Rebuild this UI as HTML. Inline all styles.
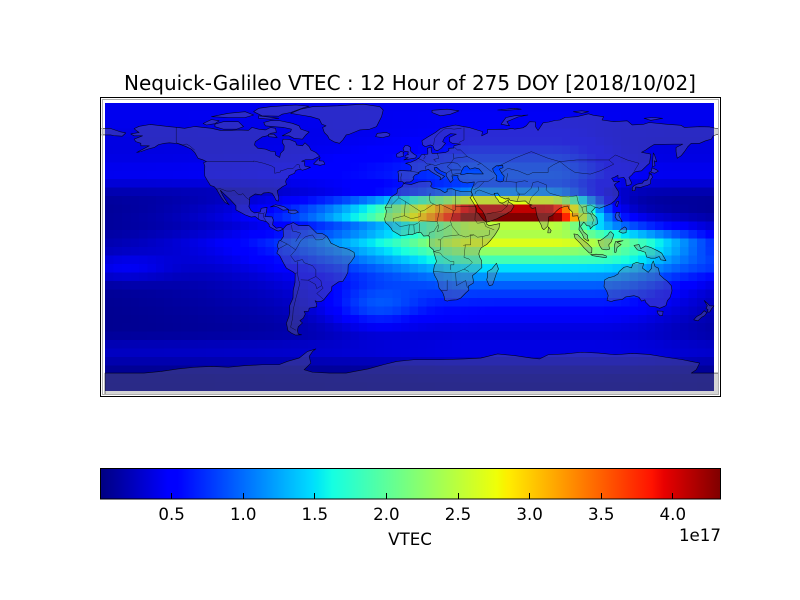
<!DOCTYPE html>
<html><head><meta charset="utf-8">
<style>
html,body{margin:0;padding:0;background:#fff;}
body{width:800px;height:600px;position:relative;overflow:hidden;font-family:"DejaVu Sans","Liberation Sans",sans-serif;}
svg{position:absolute;left:0;top:0;}
#c{position:absolute;left:105px;top:103px;width:609px;height:288px;image-rendering:pixelated;image-rendering:crisp-edges;}
.m path,.m polygon,.m polyline{vector-effect:non-scaling-stroke;}
</style></head><body>
<svg width="800" height="600" viewBox="0 0 800 600">
<defs>
<linearGradient id="jet" x1="0" y1="0" x2="1" y2="0">
<stop offset="0" stop-color="#000080"/>
<stop offset="0.11" stop-color="#0000ff"/>
<stop offset="0.125" stop-color="#0000ff"/>
<stop offset="0.34" stop-color="rgb(0,219,255)"/>
<stop offset="0.35" stop-color="rgb(0,230,247)"/>
<stop offset="0.375" stop-color="rgb(21,255,226)"/>
<stop offset="0.64" stop-color="rgb(239,255,8)"/>
<stop offset="0.65" stop-color="rgb(247,245,0)"/>
<stop offset="0.66" stop-color="rgb(255,236,0)"/>
<stop offset="0.89" stop-color="rgb(255,19,0)"/>
<stop offset="0.91" stop-color="rgb(232,0,0)"/>
<stop offset="1" stop-color="rgb(128,0,0)"/>
</linearGradient>
<linearGradient id="fb" x1="0" y1="0" x2="0" y2="1">
<stop offset="0" stop-color="#0000e0"/>
<stop offset="0.25" stop-color="#0020ff"/>
<stop offset="0.33" stop-color="#00b0ff"/>
<stop offset="0.40" stop-color="#c0ff40"/>
<stop offset="0.47" stop-color="#80ff80"/>
<stop offset="0.53" stop-color="#a0ff60"/>
<stop offset="0.62" stop-color="#00d0ff"/>
<stop offset="0.75" stop-color="#0040ff"/>
<stop offset="1" stop-color="#0000d0"/>
</linearGradient>
</defs>
<rect x="0" y="0" width="800" height="600" fill="#fff"/>
<rect x="105" y="103" width="609" height="288" fill="url(#fb)"/>
<text x="410" y="90" font-size="20" text-anchor="middle" fill="#000">Nequick-Galileo VTEC : 12 Hour of 275 DOY [2018/10/02]</text>
<rect x="100" y="468" width="620" height="31" fill="url(#jet)"/>
<g stroke="#000" stroke-width="1">
<line x1="171.5" y1="493" x2="171.5" y2="499"/>
<line x1="243.5" y1="493" x2="243.5" y2="499"/>
<line x1="314.5" y1="493" x2="314.5" y2="499"/>
<line x1="386.5" y1="493" x2="386.5" y2="499"/>
<line x1="458.5" y1="493" x2="458.5" y2="499"/>
<line x1="529.5" y1="493" x2="529.5" y2="499"/>
<line x1="601.5" y1="493" x2="601.5" y2="499"/>
<line x1="672.5" y1="493" x2="672.5" y2="499"/>
</g>
<rect x="100.5" y="468.5" width="620" height="30.5" fill="none" stroke="#000" stroke-width="1"/>
<g font-size="16.67" text-anchor="middle" fill="#000">
<text x="171.6" y="520">0.5</text>
<text x="243.2" y="520">1.0</text>
<text x="314.8" y="520">1.5</text>
<text x="386.4" y="520">2.0</text>
<text x="458" y="520">2.5</text>
<text x="529.6" y="520">3.0</text>
<text x="601.2" y="520">3.5</text>
<text x="672.8" y="520">4.0</text>
<text x="410" y="545">VTEC</text>
</g>
<text x="721" y="541" font-size="16.67" text-anchor="end" fill="#000">1e17</text>
</svg>
<canvas id="c" width="72" height="34"></canvas>
<script>
(function(){
var cv=document.getElementById('c');if(!cv.getContext)return;
var ctx=cv.getContext('2d');var im=ctx.createImageData(72,34);
function g(x,s){var q=x/s;return Math.exp(-q*q);}
function envN(lon,pe,east){if(lon<35){var d=35-lon;return Math.exp(-d/70)*g(d,170);}if(lon<=pe)return 1;return g(lon-pe,east);}
function envS(lon){if(lon<30){var d=30-lon;return Math.exp(-d/120)*g(d,200);}if(lon<=110)return 1;return g(lon-110,65);}
function val(lon,lat){
var EN=envN(lon,80,25),EBn=envN(lon,85,30),ES=envS(lon);
var w=1/(1+Math.exp(-(lat-10)/6));
var B=1.5*g(lat-5,17)+0.95*g(lat+5,41);
var d=lat-20.5,dd=Math.max(0,Math.abs(d)-2.5);
var N=2.9*(d>0?g(dd,6.5):g(dd,4));
var S=0.25*g(lat-2.5,4);
var night=0.04+0.32/(1+Math.exp(-(lat-35)/4))+0.1*g(lat-42,8)+0.2*g(lat+62,8)+0.06*g(lat-80,12);
var lw=lon+170;if(lw>180)lw-=360;
night+=0.3*g(lat+12,8)*g(lw,30);
var extra=0.5*g(lon+20,28)*g(lat+35,13);
var dn=0.25*EBn*g(lat-50,15);
return night+EN*N+(w*EBn+(1-w)*ES)*B+ES*S+extra+dn;}
function lin(t,xs,ys){for(var k=1;k<xs.length;k++){if(t<=xs[k]){var f=(t-xs[k-1])/(xs[k]-xs[k-1]);return ys[k-1]+f*(ys[k]-ys[k-1]);}}return ys[ys.length-1];}
for(var j=0;j<34;j++){var lat=82.5-5*j;
for(var i=0;i<72;i++){var lon=-177.5+5*i;
var t=val(lon,lat)/4.33;if(t<0)t=0;if(t>1)t=1;
var r=lin(t,[0,0.35,0.66,0.89,1],[0,0,1,1,0.5]);
var gg=lin(t,[0,0.125,0.375,0.64,0.91,1],[0,0,1,1,0,0]);
var b=lin(t,[0,0.11,0.34,0.65,1],[0.5,1,1,0,0]);
var p=(j*72+i)*4;im.data[p]=Math.round(r*255);im.data[p+1]=Math.round(gg*255);im.data[p+2]=Math.round(b*255);im.data[p+3]=255;}}
ctx.putImageData(im,0,0);
})();
</script>
<svg width="800" height="600" viewBox="0 0 800 600">
<defs><clipPath id="mc"><rect x="101.5" y="98.5" width="617" height="296"/></clipPath></defs>
<g clip-path="url(#mc)">
<g class="m" transform="matrix(1.683 0 0 -1.665 413.5 243.2)" fill="rgb(128,128,128)" fill-opacity="0.33" stroke="#000" stroke-width="0.6" stroke-opacity="0.85" stroke-linejoin="round">
<polygon points="-166,68.8 -163,70.2 -156.5,71.3 -152,70.8 -145,70 -141,69.6 -136,69 -130,70.1 -125,69.5 -120,69 -115,67.8 -108,67.8 -104,68 -98,67.8 -96,69.5 -94,69 -92,68.5 -88,68 -85,69.5 -82,69 -81.5,66.5 -85,66 -87,64.5 -90,63.8 -94,61 -94.5,59 -92.5,57 -88,56.5 -85,55.3 -82.2,55 -82,53 -79.5,51.5 -79,54 -77,56 -76.8,58.5 -78,60.5 -77.5,62.5 -73.5,62.2 -70,60.8 -69.5,59 -66,58.5 -64.5,60.3 -62,58 -61,56 -58,54.5 -55.7,52.2 -57.5,51.4 -60,50.2 -64,50.2 -66.5,49.2 -64.5,49 -64.8,47.8 -64.5,46.3 -61.2,45.6 -63.5,44.6 -66,43.8 -67.5,44.5 -70,43.7 -70.7,42 -74,40.6 -74.3,39.5 -75.5,38.5 -76,37 -75.5,35.2 -78,33.8 -81,31.5 -80,27 -80.4,25.2 -81.7,25.9 -82.7,28 -84,30 -86,30.4 -89,30.2 -90.5,29 -94,29.6 -97.3,27.5 -97.5,24 -97.8,22 -96.5,19.5 -94.5,18.2 -91,18.8 -90.5,21 -87,21.5 -87.6,18 -88.3,16 -84,15.8 -83.3,14 -83.7,11 -81.5,9 -79,9.5 -77.5,8.5 -79.5,7.5 -80.5,7.3 -82.5,8.2 -85.7,10 -85.8,11.3 -87.5,13 -91.5,14 -94,16 -96.5,15.7 -100,17 -105.5,20 -105.5,22.5 -108,25.2 -109.5,26.8 -112.2,29.3 -114.8,31.8 -113.5,29 -112,26.5 -110.5,24.2 -109.5,23 -110.3,23.6 -112.1,24.6 -114.2,27.5 -115.5,29.7 -117.1,32.5 -118.5,34 -120.6,34.6 -122.4,37.5 -124,40.3 -124.1,43 -124,46.3 -124.7,48.4 -123,49 -125,50 -128,51 -130,54.5 -132,56.5 -135.5,58.2 -140,59.8 -145,60.3 -148,60 -151.5,59.2 -154,57.5 -158,56.5 -162,55 -164.5,54.5 -157,58.5 -162,58.5 -162,60 -165,61 -166,62.5 -164,63.3 -161,64.5 -166,64.5 -168,65.6 -163,66.5 -164.5,67.5"/>
<polygon points="-73,78 -67,80.5 -60,82 -45,82.5 -30,83.5 -20,82 -18,80 -19,76 -21,72 -22,70 -26,68.5 -32,68 -38,65.5 -40,65 -42,62 -44,60 -47,60.8 -50,62.5 -51,64.5 -53,66.5 -54,69.5 -52,70.5 -54.5,71.5 -56,74.5 -61,76 -67,77"/>
<polygon points="-80,73.7 -72,72 -68,70.5 -67,68.5 -62,66.8 -64,65 -66,62.5 -71,63 -74,64.5 -78,64.5 -73,67 -72.5,68.5 -77,69.5 -83,70 -88,70.5 -89,72.5 -85,73.6"/>
<polygon points="-90,76.5 -80,76.3 -78,77.5 -73,78.5 -65,81.5 -62,82.3 -70,83 -85,82 -92,81 -95,79"/>
<polygon points="-118,71.5 -113,73 -104,73 -101,70 -105,68.5 -113,68.5 -118,70"/>
<polygon points="-125,71.9 -120,74.3 -115.5,73.5 -118,71.8 -123,71"/>
<polygon points="-120,76 -110,78 -100,79 -95,77 -100,75.5 -110,75.5"/>
<polygon points="-92,76.5 -80,75 -85,74.5 -92,75"/>
<polygon points="-86,64 -81,63.5 -83,65.5 -86,65.5"/>
<polygon points="-59.4,47.6 -55.5,51.5 -56,49.5 -53.5,49.3 -52.7,47.5 -55.5,46.8"/>
<polygon points="-85,21.8 -82,23.1 -77,22 -74.2,20.2 -77.5,19.8 -80.5,21.6 -82,22.2"/>
<polygon points="-74.4,19.8 -70,19.9 -68.4,18.6 -71.5,17.6 -74.4,18.4"/>
<polygon points="-22.5,64 -21.5,66 -16,66.5 -14,65.5 -14.5,64.4 -18.5,63.4"/>
<polygon points="-5.7,50 1.4,51.2 1.7,52.7 0.3,53.5 -1.5,55 -2,56 -1.8,57.6 -3.3,58.6 -5,58.6 -6.2,56.8 -5.6,55.3 -3,54.9 -3.4,54 -3,53.3 -4.6,52.8 -5.2,51.7 -3.1,51.4"/>
<polygon points="-6,52.2 -6.2,53.9 -5.7,54.6 -7.6,55.2 -8.5,54.4 -10,53.5 -9.9,51.8 -8,51.7"/>
<polygon points="11,78.5 16,76.5 22,77.5 27,79.5 20,80.5 11,79.8"/>
<polygon points="52,71.5 57,70.5 55.5,73 62,75.8 68,77 60,76.5 55,75.5"/>
<polygon points="95,79 100,79.5 104,79 100,78"/>
<polygon points="137,75 142,75.5 148,75 141,73.8"/>
<polygon points="50,80 60,81 64,80.5 55,79.8"/>
<polygon points="-180,68.9 -174.5,67 -171,66.2 -173,64.3 -178,64.6 -180,65 -186,65 -186,68.9"/>
<path fill-rule="evenodd" d="M-5.6,36 L-6.5,36.9 -8.9,37 -8.8,40.5 -9.3,43 -8,43.7 -3,43.4 -1.5,43.4 -1.2,46 -2.5,47.3 -4.7,48 -1.5,48.7 1.5,50 3.5,51.4 4.8,53.2 8.5,53.5 8.5,55.5 8.2,57 10.5,57.7 10.5,56 11,54 14,54 19,54.5 21,55.5 21,57 24,57.2 24,58.5 28,59.5 23,60 21.5,61 21.2,63.5 25.5,65.5 22,65.8 18.5,63.5 17.3,61 19,60 16.5,57 14.2,55.5 12.5,56.2 11.5,58.5 10,59 7,58 5.5,59 5,61.5 8,63.5 13,66.5 16,68.8 20,70 25,71 30,70 33,69.5 41,67 40.5,64.5 44,66.2 44,68.3 53,68.5 55,68.3 58.5,69 60,68.5 65,69.3 67,70.5 69,73 72.5,72.8 72.5,70 74,67.7 77,72.3 80.5,72.8 84,73.7 87,74 90,75.5 97,76 104,77.7 107,76.8 113,76 112,74 119,73 127,73.5 130,71 137,71.5 140,72.5 150,71.5 159,70.8 161,69.5 170,70 176,69.8 180,68.9 186,68.9 186,65.2 180,65.2 178,64.4 177,62.5 173.5,61.5 170,60 165,60 163,58 161,55 159,52.5 156.7,51 156,55 156,57.5 160,59.5 155,59.5 143,59.3 140.5,57.8 138,56 135.5,54.6 141,53.5 140.5,50 140.2,48 138.5,46.5 135.5,43.5 132,43 130.7,42.3 129.7,41 128,39.5 129.5,36.5 129.2,35.2 126.5,34.4 126.2,36.8 126.2,37.7 125,39.5 121.5,39 121.5,40.8 119.8,39.8 117.7,39 118.5,38 119,37 122.5,37.2 120.3,36 119.3,35 120.8,32.5 121.9,30.9 122,29.5 121.5,28 119.6,25.5 117,23.5 114,22.3 110.5,21 108,21.6 106.8,20 105.8,19 106.6,17.4 108.9,15.4 109.4,12 109,11.5 106.8,10.4 105,8.6 104.8,10.3 103,10.5 101.2,12.7 99.2,10 100.3,8.2 101,6.8 103.4,4.8 103.5,2.7 104.2,1.4 103.5,1.3 101.3,2.9 100.3,5.3 98.3,8.2 98.5,10 98.7,12.5 97.6,16.5 94.5,16.2 94.3,18.8 92.3,20.7 91.8,22.3 90.5,22.2 88.5,21.6 86.9,21 85,19.4 82.3,16.6 80.3,15.8 80.1,13.4 79.8,10.3 77.5,8.1 76.5,8.9 75.7,11.3 74.8,12.9 73.5,16 72.8,19.2 72.6,21.4 70.5,20.8 69,22.4 70.5,23 68.2,23.7 66.5,25.4 61.5,25.1 57.4,25.7 56.5,27.1 54.7,26.5 51.5,27.9 50,30.1 47.9,29.9 48.8,27.7 50.1,26.2 50.8,24.8 51.6,24.2 53.4,24.2 55.5,25.5 56.3,26.3 56.4,24.9 58.7,23.5 59.8,22.4 57.8,19 56.6,18.6 55.3,17.6 52,16 49.5,14.7 45,13 43.5,12.7 42.7,16 40.9,19.5 39.1,21.3 37.5,24.3 35.6,27.5 34.9,29.4 34.2,31.2 34.6,32.5 35.9,35.4 36.1,36.8 32,36.2 29.5,36.5 27.3,37.5 26.3,39.5 26.5,40.5 26,40.8 24,40.5 22.8,40.5 23.5,38 22,36.5 21.1,37.8 19.4,40.5 19.5,42 16,43.5 13.7,45.6 12.3,45.3 12.5,44 14,42.5 16,41.4 18.5,40.2 16.5,38.5 15.7,38 16.1,39.5 15.6,40 12.4,41.8 10.5,43 8.8,44.4 7.5,43.8 4.5,43.4 3.1,42.5 3.2,41.9 0.9,41 -0.3,39.5 0.2,38.7 -0.7,37.6 -2.1,36.7 -4.4,36.7 Z M28,41.3 L28.5,43.5 30,45.8 31.8,46.5 33.5,44.5 36.5,45.3 39,44.6 41.5,41.6 36,41.6 32,41.9 29,41.1 Z M47,44.8 L49.2,46.5 53,46.8 53.2,45.3 51,44.5 52.7,41.7 53.9,40.3 53.4,37.3 51.5,36.8 49,37.6 49.5,40.3 47.5,43 Z"/>
<polygon points="-5.9,35.8 -1.5,35.2 3,36.8 10,37.2 11,35.5 10.1,34.3 11.2,33.2 15.5,32.3 18.5,30.4 20,31 20,32.5 23,32.7 25,31.8 29,30.9 32,31.2 34.2,31.2 34.9,29.5 34.2,27.8 33.6,27.5 35.8,23.9 37.3,21 37.4,18.6 38.6,17.9 40,15.8 41.7,13.8 43.2,12.6 43.4,11.5 45,10.5 51.3,11.8 51,10.4 50.8,9 49,6 48,4.5 46,2 43.5,-0.8 41.5,-1.9 40.2,-2.8 39.2,-4.7 38.8,-6.5 39.4,-8.5 40.5,-10.5 40.6,-14.7 37.5,-17.5 35,-19.5 35.5,-22 35.5,-24 32.6,-25.8 32.9,-28.2 31,-29.9 28,-33 25.6,-34 22,-34.2 20,-34.8 18.4,-34.1 18.2,-32 17.3,-29.5 15.2,-27 14.4,-22.8 12.4,-19 11.8,-17 12.4,-13.5 13.7,-11 12.2,-6 11.8,-4 9.5,-2 9.6,1 9.6,3.9 8.8,4.5 6,4.3 4.5,6.3 2,6.3 -1,5.1 -3,5.1 -7.5,4.4 -9.2,5.5 -12.5,7.5 -13.3,9 -15,11 -16.7,12.4 -17.2,14.7 -16.5,16.5 -16.1,19.5 -16.9,21.3 -15,24.5 -13.5,27.6 -9.8,30 -9.5,32.5 -6.8,34"/>
<polygon points="49.3,-12 50.5,-15.5 49.5,-17.5 48,-22 47,-25 45,-25.5 43.5,-22 44,-20 44,-17 46.5,-15.5"/>
<polygon points="-77.5,8.5 -75.5,10.8 -73,11.6 -71.5,12.4 -70,11.5 -68,10.5 -64,10.6 -62,10.5 -60,8.5 -57.5,6 -54,5.7 -51.5,4.2 -50,1.8 -49,0 -47.5,-0.7 -44,-2.4 -41,-2.9 -38.5,-3.7 -35.3,-5.5 -35,-8 -37,-11 -38.8,-13 -39,-17.5 -40.5,-20.5 -42,-22.9 -44.5,-23.2 -48.5,-26 -48.8,-28.5 -51,-31 -53.3,-34 -55,-35 -57.2,-35.2 -58.5,-34.5 -57.5,-36.5 -57.5,-38.2 -62,-39 -62.3,-40.8 -65,-41 -64.3,-42.5 -65.5,-45 -67.5,-46.5 -66,-47.9 -68.5,-50.2 -69,-52.3 -68.5,-54.5 -66.5,-55 -70,-55.2 -72.5,-54 -74.6,-52.5 -75.5,-48 -74,-44 -73.5,-41.5 -73.6,-37.5 -71.6,-33 -71.5,-28.5 -70.4,-23.5 -70.3,-18.3 -71.5,-17.3 -75.5,-15 -77.2,-12 -79.5,-7.5 -81.2,-6 -80.3,-3.5 -80.9,-1.5 -80,1.2 -78.8,1.8 -77.3,4 -77.4,6.5"/>
<polygon points="130,31.5 131.5,31.5 132,33.8 135,33.5 136.8,34.2 139,34.7 140.8,35.7 141,38.3 142,39.5 141.4,41.4 140,40.8 139.9,39.5 139,38 136.8,37.3 136,36 133,35.5 131,34.5 130,33.5"/>
<polygon points="140,41.5 141.5,42.5 143.3,42 145.5,43.3 144.5,44 141.7,45.4 141.4,43.3 140,42.5"/>
<polygon points="142,46 143.5,46.5 143,49.5 144.5,49 143.2,53 142.5,54.2 142.2,51 142,48"/>
<polygon points="120.2,22.6 121,21.9 121.9,25 121,25.2 120.2,23.5"/>
<polygon points="79.8,6.2 80.2,9.8 81.8,7.5 81.2,6.2"/>
<polygon points="120.5,18.5 122.3,18.5 122,16.5 124,13 121.5,13.7 120.6,14.4 119.8,16"/>
<polygon points="122,7 124.3,6 126.3,6.3 126.5,9 125.5,9.8 123.5,8.5"/>
<polygon points="109.6,1.8 110.5,-1.3 111.9,-3.5 114.5,-4 116.5,-3.5 116,-1 117.5,0.8 119,5.2 117.3,6.9 116.5,6.6 115.5,5 113,3 111,1.6"/>
<polygon points="95.3,5.6 97.5,5.2 100.4,2.2 103.7,-0.5 106,-3 105.9,-5.8 104.5,-5.9 101.5,-3 99,0 96,3"/>
<polygon points="105.2,-6.8 108.5,-6.6 112.5,-6.9 114.6,-7.7 114.5,-8.7 110.5,-8.2 106.5,-7.5"/>
<polygon points="119.5,-5.5 120.3,-5.5 121,-2.5 123.4,-0.8 121,0.5 124.5,1.5 120,1 119.5,-1"/>
<polygon points="131,-1.3 134,-0.8 135,-3.3 138,-1.6 141,-2.6 145,-4.5 147.5,-6 150,-10.5 147,-10 146,-8 143.5,-9 141,-9 138.5,-8.3 137.8,-5.5 135,-4.5 133,-4 132,-2.7"/>
<polygon points="113.2,-26 113.6,-22 116,-20.7 119,-20 121.5,-18.5 122.2,-17 125,-14.5 127,-14 129.5,-14.8 130.3,-12.5 132.5,-11.5 135,-12.2 136.8,-12.2 136,-15 139.5,-17.5 141.5,-15 141.6,-12.5 142.5,-10.7 143.5,-14 145.5,-15 146.3,-19 149,-21.5 150.8,-22.8 153.2,-25.5 153.6,-28.6 152.5,-32.5 150.8,-34.5 150,-37.5 146.3,-39.1 144,-38.2 140.5,-38 138,-35.5 137.5,-34 135.5,-34.8 134,-32.5 131,-31.5 126,-32.3 124,-33.8 119.5,-34.3 117.5,-35.1 115,-34.3 115.7,-31.5 114.9,-29"/>
<polygon points="144.7,-40.7 148.3,-40.9 148,-43.3 146.5,-43.6 145.2,-42.2"/>
<polygon points="172.7,-34.4 174.5,-36 176,-37.6 178.5,-37.7 177,-39.5 176,-41.3 174.7,-41.4 175,-39.8 173.8,-39.2 174.6,-37.5"/>
<polygon points="172.7,-40.5 174.3,-41.7 173,-43.5 171.2,-44.5 169,-46.6 166.5,-46 168.3,-44 170.8,-42.7"/>
<polygon points="-183.3,-78 -160,-78 -150,-77 -140,-75.5 -130,-74.5 -120,-74 -110,-74.5 -100,-73.5 -90,-73 -80,-73 -75,-71 -68,-69 -63,-65 -58,-63.5 -60,-65 -62,-68 -61,-72 -63,-74 -65,-76 -60,-77.5 -50,-78 -40,-78 -35,-77 -27,-75.5 -18,-73 -10,-71 0,-70 15,-70 30,-69.5 40,-69 50,-66.5 60,-67.5 70,-69 75,-69.5 80,-67 90,-66.5 100,-65.5 110,-66 120,-67 130,-66.2 140,-66.8 150,-68.5 160,-70 165,-71 170,-72 168,-76 165,-78 170,-78 190,-78 190,-95 -183.3,-95"/>
</g>
<g class="m" transform="matrix(1.683 0 0 -1.665 413.5 243.2)" fill="none" stroke="#000" stroke-width="0.5" stroke-opacity="0.7" stroke-linejoin="round">
<polyline points="-123,49 -95,49 -95,49.4 -89,48 -84.5,46.5 -82.5,45.3 -82.5,42 -79,42.8 -79,43.5 -76,44.2 -74.7,45 -71.5,45 -70,46.5 -69.2,47.4 -67.8,47 -67.8,45.5 -67,44.8"/>
<polyline points="-141,69.6 -141,60.3 -137,59 -135,59.6 -133,58.5 -130,55.9"/>
<polyline points="-117.1,32.5 -114.7,32.7 -111,31.3 -108.2,31.3 -106.5,31.8 -104.5,29.6 -103,29 -101.4,29.8 -99.5,27.5 -97.2,25.9"/>
<polyline points="-92.2,14.5 -92,18 -89,17.8 -88.3,18.5"/>
<polyline points="-89,17.8 -89.2,15.9 -87.5,13"/>
<polyline points="-60,5 -64,4 -67,1.5 -70,-4 -73,-7.5 -70.5,-11 -66,-9.8 -65,-11.7 -60,-13.5 -58,-16 -58,-20 -55,-22.5 -54.6,-25.5 -53.7,-27 -57.5,-30.2 -53.5,-33.7"/>
<polyline points="-69,-17.7 -68.3,-22 -67.5,-24 -68.5,-28 -70,-33.5 -71.5,-40 -71.8,-45 -72.5,-48 -73,-50.5 -69.8,-52.3"/>
<polyline points="-67,-22 -62.6,-22.2 -58,-20"/>
<polyline points="-62.6,-22.2 -58.2,-24.8 -57.5,-27.3 -54.6,-25.5"/>
<polyline points="-70,-4 -75,-0.5 -80.3,-3.4"/>
<polyline points="-75,-0.5 -78.8,1.4"/>
<polyline points="-70,1 -67,6 -70,7 -72,7.3 -72.5,11"/>
<polyline points="-69,-17.7 -70.4,-18.3"/>
<polyline points="-69,-17.7 -69,-11"/>
<polyline points="-60,5 -58,2 -56,2 -54,2.3 -51.8,4.3"/>
<polyline points="25,31.6 25,22 36.9,22"/>
<polyline points="25,22 25,20 24,19.5 15.9,23.4 14,22.5 12,23.5 10,24.5 9.5,26.5 9.9,30"/>
<polyline points="12,23.5 6,19.5 4,19.2 1.2,21 -4.8,25 -8.7,27.3 -8.7,28.7"/>
<polyline points="-8.7,27.3 -13,23 -13,21.3 -17,21.3"/>
<polyline points="-4.8,25 -5.5,16.5 -12,14.8 -12,12.5"/>
<polyline points="4,19.2 4,16 0,15 -2,15 -5.5,16.5"/>
<polyline points="15.5,23 15.5,20 14,13 15,10"/>
<polyline points="24,19.5 22,13 23,10 27,5 31,3.7 34,4.6 35.9,5"/>
<polyline points="16,2 18,4 27,5"/>
<polyline points="14,13 8,13.3 4,13.5 2.5,12 0,11 -3,11 -5.5,10.4 -8,10 -11,12.4"/>
<polyline points="3.5,12 3.5,7 2.7,6.3"/>
<polyline points="-3,5 -2.5,11"/>
<polyline points="0.2,11 0.5,6"/>
<polyline points="15,10 14,7 16,7.5 19,9 22,11"/>
<polyline points="9,4.5 9.7,6.5 12,7 14.5,11"/>
<polyline points="14.5,2 16,2 16,-4 12,-5"/>
<polyline points="36.9,22 36.5,14 38,12 42,12.5"/>
<polyline points="33.5,5 35.9,5 38,3.6 41,4 41,-1.6"/>
<polyline points="34,4.6 34,-1 30.8,-1 29.6,-1.4"/>
<polyline points="30.8,-1 30,-8.5 33,-9.5 35,-11.5"/>
<polyline points="12,-5 16,-6 17.5,-8 22,-11 24,-11 24,-13 22,-13 22,-16"/>
<polyline points="11.8,-17 20,-17.5 25,-17.8 30,-15.6 33,-17"/>
<polyline points="30,-15.6 33,-13.5 35,-11.5"/>
<polyline points="20,-22 20,-24.8 20,-28.4 16.5,-28.5"/>
<polyline points="25,-17.8 25.5,-25.5 31,-22.4 32,-26.8"/>
<polyline points="42,12.5 43,10 48,8"/>
<polyline points="45,8 45,5 41,4"/>
<polyline points="28,56 32,52 40,48 38,47"/>
<polyline points="40,48 47,42.5"/>
<polyline points="50,46 60,51 70,55 80,51 87,49 97,50 107,50 116,50 120,53 127,50 134,48 131,43"/>
<polyline points="87,49 92,45 96,42.5 105,41.5 111,43.5 116,46 119,47.5 116,50"/>
<polyline points="74,37 79,35 78.8,32 81,30 88,28 92,27.8 97,28.5 98,24 100,21.5 105,23 108,21.6"/>
<polyline points="52,42 56,45 62,43.5 68,41 71,42.5 80,42.5 80,45 83,47 87,49"/>
<polyline points="53.9,37.3 61,36.6 61,31.5 63,29.5 61.5,25.1"/>
<polyline points="61.5,29.5 66,29.5 70,33 71,36.5 74,37"/>
<polyline points="74,34 74.5,32 70,27.5 68.5,23.7"/>
<polyline points="61,36.6 66,37.5 68,37"/>
<polyline points="55,37 56,42"/>
<polyline points="2.5,51 6,49.5 8,47.6 10.5,47.5 13,46.6 17,48 22.5,48.5 26,48 28.2,45.5"/>
<polyline points="6.2,53.4 7,52 6,50.5"/>
<polyline points="14.2,54 15,51 12,50.3 13.5,48.8"/>
<polyline points="24,51 23.5,54"/>
<polyline points="22.5,48.5 24,51 32,52"/>
<polyline points="-1.8,43.3 3.2,42.4"/>
<polyline points="-7,42 -7.5,39.5 -7.4,37.2"/>
<polyline points="7.5,43.8 7,46 10.5,47.5"/>
<polyline points="22.5,48.5 20,46 22.5,44 28,44"/>
<polyline points="19.5,42 22.5,44"/>
<polyline points="22.5,44 23,41.3 26,41.8 28,42"/>
<polyline points="35.5,32 38.5,33.4 42,37 44.8,37.3"/>
<polyline points="39,32 47,29 48.5,30"/>
<polyline points="36,34.6 38,36.8 42,37"/>
<polyline points="44.8,37.3 48,39.5"/>
<polyline points="43.5,17.5 48,18.5 52,19 55.5,22 51.5,24.5"/>
<polyline points="55.5,22 56.4,24.9"/>
<polyline points="39,32 37,31 36.5,29.5"/>
<polyline points="100,21.5 101,18 98,15 99,10.5"/>
<polyline points="101,18 105,18 107,14 106,11"/>
<polyline points="102.5,22.4 103,19 106,17"/>
<polyline points="30,69.5 30,62 27,60.5"/>
<polyline points="28.5,69 24,68.5 20.5,69"/>
<polyline points="12,59 12.5,63 14.5,65.5 18,68.5 20.5,69"/>
<polyline points="28,56 26,56 24.5,57.5"/>
</g>
</g>
<rect x="102.5" y="99.5" width="616" height="295" fill="none" stroke="#b0b0b0" stroke-width="1"/>
<rect x="100.5" y="97.5" width="620" height="299" fill="none" stroke="#000" stroke-width="1"/>
</svg>
</body></html>
